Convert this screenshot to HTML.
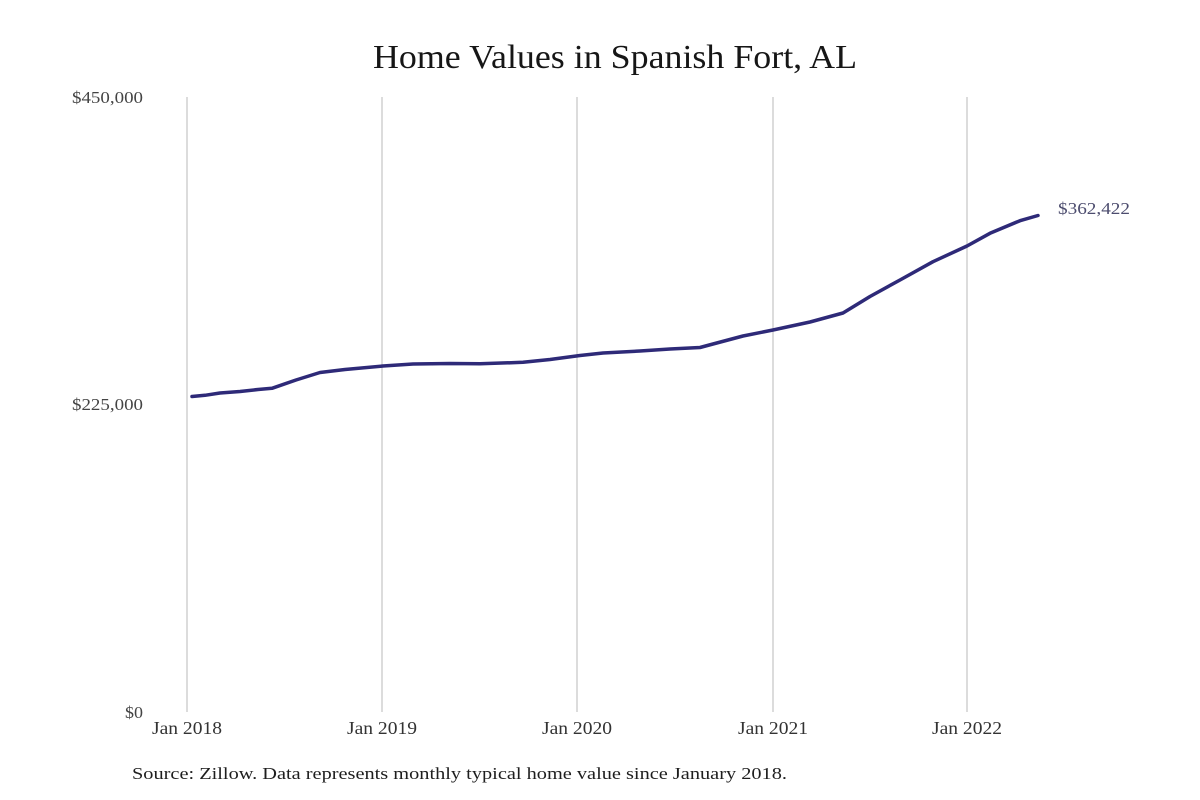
<!DOCTYPE html>
<html>
<head>
<meta charset="utf-8">
<style>
html,body{margin:0;padding:0;background:#fff;}
svg{display:block;}
text{font-family:"Liberation Serif","DejaVu Serif",serif;}
</style>
</head>
<body>
<svg width="1200" height="800" viewBox="0 0 1200 800" xmlns="http://www.w3.org/2000/svg">
<rect width="1200" height="800" fill="#ffffff"/>
<text x="615" y="68" text-anchor="middle" font-size="34" fill="#161616" textLength="484" lengthAdjust="spacingAndGlyphs">Home Values in Spanish Fort, AL</text>

<g stroke="#c4c4c4" stroke-width="1.2">
<line x1="187" y1="97" x2="187" y2="712"/>
<line x1="382" y1="97" x2="382" y2="712"/>
<line x1="577" y1="97" x2="577" y2="712"/>
<line x1="773" y1="97" x2="773" y2="712"/>
<line x1="967" y1="97" x2="967" y2="712"/>
</g>

<g font-size="17" fill="#444" text-anchor="end">
<text x="143" y="103" textLength="71" lengthAdjust="spacingAndGlyphs">$450,000</text>
<text x="143" y="410" textLength="71" lengthAdjust="spacingAndGlyphs">$225,000</text>
<text x="143" y="718" textLength="18" lengthAdjust="spacingAndGlyphs">$0</text>
</g>

<g font-size="18" fill="#333" text-anchor="middle">
<text x="187" y="734" textLength="70" lengthAdjust="spacingAndGlyphs">Jan 2018</text>
<text x="382" y="734" textLength="70" lengthAdjust="spacingAndGlyphs">Jan 2019</text>
<text x="577" y="734" textLength="70" lengthAdjust="spacingAndGlyphs">Jan 2020</text>
<text x="773" y="734" textLength="70" lengthAdjust="spacingAndGlyphs">Jan 2021</text>
<text x="967" y="734" textLength="70" lengthAdjust="spacingAndGlyphs">Jan 2022</text>
</g>

<polyline fill="none" stroke="#2e2a78" stroke-width="3.5" stroke-linejoin="round" stroke-linecap="round"
points="192,396.5 205,395.3 220,393 240,391.5 258,389.5 272,388.3 296,380 320,372.5 345,369.5 383,366 413,364 450,363.5 480,363.8 523,362.3 550,359.5 580,355.5 603,353 640,351 670,349 700,347.5 713,344 743,336 773,330 810,322 843,313 870,296.5 900,280 933,261.7 967,246 990,233.3 1020,220.7 1038,215.5"/>

<text x="1058" y="214" font-size="17" fill="#4c4c6e" textLength="72" lengthAdjust="spacingAndGlyphs">$362,422</text>

<text x="132" y="779" font-size="17" fill="#1e1e1e" textLength="655" lengthAdjust="spacingAndGlyphs">Source: Zillow. Data represents monthly typical home value since January 2018.</text>
</svg>
</body>
</html>
